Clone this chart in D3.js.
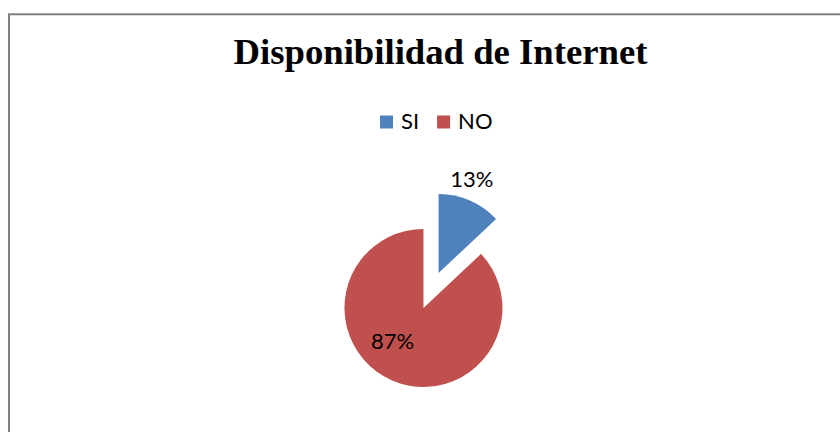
<!DOCTYPE html>
<html>
<head>
<meta charset="utf-8">
<script src="https://cdn.jsdelivr.net/npm/d3@7"></script>
<style>
  body { margin: 0; background: #fff; }
</style>
</head>
<body>
<div id="chart"></div>
<script>
// datos del grafico
const categories = ["SI", "NO"]
const values = [13, 87]
const colors = ["#4F81BD", "#C0504D"]
const titleText = "Disponibilidad de Internet"

const width = 840
const height = 432

const svg = d3.select("div#chart").append("svg").attr("width", width).attr("height", height)

// marco del grafico (se sale por la derecha y por abajo)
svg.append("rect")
    .attr("x", 9)
    .attr("y", 14.3)
    .attr("width", width + 20)
    .attr("height", height + 20)
    .attr("fill", "#fff")
    .attr("stroke", "#808080")
    .attr("stroke-width", 2)

svg.append("text")
    .attr("x", 440.5)
    .attr("y", 64)
    .attr("text-anchor", "middle")
    .style("font-family", "'Liberation Serif', 'Times New Roman', serif")
    .style("font-size", "36.7px")
    .style("font-weight", "bold")
    .text(titleText)

// leyenda
const legend = svg.append("g").attr("class", "legend").attr("transform", "translate(380, 0)")
let lx = 0
categories.forEach((c, i) => {
    const g = legend.append("g").attr("transform", `translate(${lx}, 0)`)
    g.append("rect")
        .attr("x", 0).attr("y", 115.5)
        .attr("width", 13).attr("height", 13)
        .attr("fill", colors[i])
    const t = g.append("text")
        .attr("x", 21).attr("y", 128.5)
        .style("font-family", "Lato, 'Open Sans', sans-serif")
        .style("font-size", "22px")
        .text(c)
    lx += 21 + t.node().getComputedTextLength() + 18
})

// tarta con porciones separadas
const cx = 431, cy = 290.5
const radius = 79
const explode = 19

const color = d3.scaleOrdinal().domain(categories).range(colors)
const pie = d3.pie().sort(null).value(d => d.value)
const arc = d3.arc().innerRadius(0).outerRadius(radius)

const data = categories.map((c, i) => ({ name: c, value: values[i] }))
const arcs = pie(data)

// posicion de etiquetas: desplazamiento de angulo (grados) y radio
const labelPos = [{ da: -4, r: 100 }, { da: 20, r: 45 }]

const pieG = svg.append("g").attr("transform", `translate(${cx},${cy})`)

const slices = pieG.selectAll(".slice").data(arcs).enter().append("g")
    .attr("class", "slice")
    .attr("transform", d => {
        const a = (d.startAngle + d.endAngle) / 2
        return `translate(${Math.sin(a) * explode},${-Math.cos(a) * explode})`
    })

slices.append("path")
    .attr("d", arc)
    .attr("fill", d => color(d.data.name))

const total = d3.sum(values)
slices.append("text")
    .attr("transform", (d, i) => {
        const a = (d.startAngle + d.endAngle) / 2 + labelPos[i].da * Math.PI / 180
        return `translate(${Math.sin(a) * labelPos[i].r},${-Math.cos(a) * labelPos[i].r})`
    })
    .attr("text-anchor", "middle")
    .attr("dy", "0.36em")
    .style("font-family", "Lato, 'Open Sans', sans-serif")
    .style("font-size", "22px")
    .text(d => Math.round(d.value / total * 100) + "%")
</script>
</body>
</html>
